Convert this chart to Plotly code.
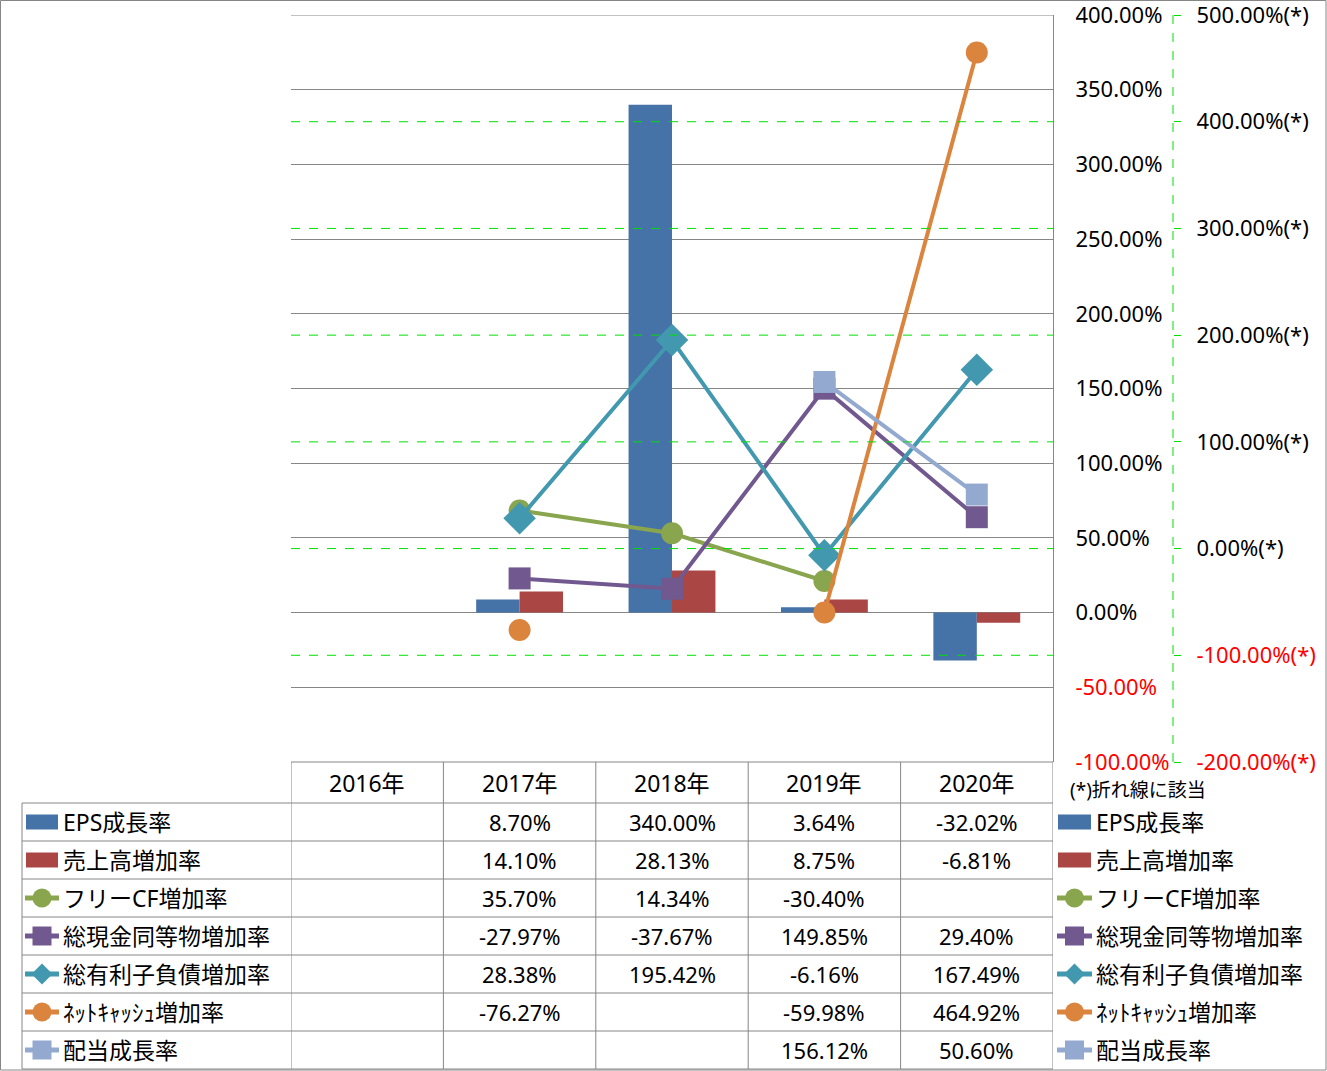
import plotly.graph_objects as go

# ---------------- data ----------------
years = ['2016年', '2017年', '2018年', '2019年', '2020年']
eps = [None, 8.70, 340.00, 3.64, -32.02]
sales = [None, 14.10, 28.13, 8.75, -6.81]
fcf = [None, 35.70, 14.34, -30.40, None]
cash = [None, -27.97, -37.67, 149.85, 29.40]
debt = [None, 28.38, 195.42, -6.16, 167.49]
netcash = [None, -76.27, None, -59.98, 464.92]
dividend = [None, None, None, 156.12, 50.60]

names = ['EPS成長率', '売上高増加率', 'フリーCF増加率', '総現金同等物増加率',
         '総有利子負債増加率', 'ﾈｯﾄｷｬｯｼｭ増加率', '配当成長率']
series = [eps, sales, fcf, cash, debt, netcash, dividend]
kinds = ['bar', 'bar', 'line', 'line', 'line', 'line', 'line']
colors = ['#4572A7', '#AA4643', '#89A54E', '#71588F', '#4198AF', '#DB843D', '#93A9CF']
symbols = [None, None, 'circle', 'square', 'diamond', 'circle', 'square']
msizes = [None, None, 22, 22, 25, 22, 22]

y1_ticks = [-100, -50, 0, 50, 100, 150, 200, 250, 300, 350, 400]
y2_ticks = [-200, -100, 0, 100, 200, 300, 400, 500]
footnote = '(*)折れ線に該当'

# ---------------- geometry helpers ----------------
W, H = 1327, 1071
FONT = 'Noto Sans, Noto Sans CJK JP, sans-serif'
GRAY = '#868686'
GREEN = '#00E000'


def px(x):
    return x / W


def py(y):
    return 1 - y / H


PL, PR, PT, PB = 291, 1053, 15, 762
Y2X = 1173
HDR_B = 803
ROW_H = 38
LEFT = 22

fig = go.Figure()

for s, k, c, sym, ms, n in zip(series, kinds, colors, symbols, msizes, names):
    if k == 'bar':
        fig.add_trace(go.Bar(x=years, y=s, name=n, marker=dict(color=c, line=dict(width=0)),
                             yaxis='y', showlegend=False))
    else:
        fig.add_trace(go.Scatter(x=years, y=s, name=n, mode='lines+markers', yaxis='y2',
                                 line=dict(color=c, width=4),
                                 marker=dict(symbol=sym, size=ms, color=c,
                                             line=dict(width=0)),
                                 connectgaps=False, showlegend=False, cliponaxis=False))


def red(t, v):
    return f'<span style="color:#FF0000">{t}</span>' if v < 0 else t


y1_text = [red(f'{v:.2f}%', v) for v in y1_ticks]
y2_text = [red(f'{v:.2f}%(*)', v) for v in y2_ticks]

shapes = []
annotations = []

# primary gridline at the top end (Plotly skips gridlines at the range ends)
shapes.append(dict(type='line', xref='x domain', x0=0, x1=1, yref='y',
                   y0=y1_ticks[-1], y1=y1_ticks[-1],
                   line=dict(color=GRAY, width=1), layer='below'))

# secondary gridlines (green dashed)
for v in y2_ticks[1:-1]:
    shapes.append(dict(type='line', xref='paper', x0=px(PL), x1=px(PR), yref='y2', y0=v, y1=v,
                       line=dict(color=GREEN, width=1, dash='dash'), layer='above'))
# secondary axis line (dashed)
shapes.append(dict(type='line', xref='paper', x0=px(Y2X), x1=px(Y2X), yref='y2',
                   y0=y2_ticks[0], y1=y2_ticks[-1], layer='above',
                   line=dict(color=GREEN, width=1, dash='dash')))

# ---------------- data table ----------------
nrows = len(names)
TB = HDR_B + ROW_H * nrows
for i in range(len(years) + 1):
    shapes.append(dict(type='line', xref='x', x0=i - 0.5, x1=i - 0.5, yref='paper',
                       y0=py(PB), y1=py(TB), line=dict(color=GRAY, width=1), layer='above'))
shapes.append(dict(type='line', xref='paper', x0=px(LEFT), x1=px(LEFT), yref='paper',
                   y0=py(HDR_B), y1=py(TB), line=dict(color=GRAY, width=1), layer='above'))
shapes.append(dict(type='line', xref='paper', x0=px(PL), x1=px(PR), yref='paper',
                   y0=py(PB), y1=py(PB), line=dict(color=GRAY, width=1), layer='above'))
for r in range(nrows + 1):
    yy = HDR_B + ROW_H * r
    shapes.append(dict(type='line', xref='paper', x0=px(LEFT), x1=px(PR), yref='paper',
                       y0=py(yy), y1=py(yy), line=dict(color=GRAY, width=1), layer='above'))

for j, yr in enumerate(years):
    annotations.append(dict(x=j, xref='x', y=py((PB + HDR_B) / 2), yref='paper', text=yr,
                            showarrow=False, font=dict(size=23, color='black'),
                            xanchor='center', yanchor='middle'))

for r, s in enumerate(series):
    yc = HDR_B + ROW_H * r + ROW_H / 2
    for j, v in enumerate(s):
        if v is None:
            continue
        annotations.append(dict(x=j, xref='x', y=py(yc), yref='paper', text=f'{v:.2f}%',
                                showarrow=False, font=dict(size=22, color='black'),
                                xanchor='center', yanchor='middle'))


# ---------------- legend keys (table left column and right side) ----------------
def key(xl, xr, yc, r):
    c = colors[r]
    if kinds[r] == 'bar':
        shapes.append(dict(type='rect', xref='paper', yref='paper', x0=px(xl + 1), x1=px(xr - 1),
                           y0=py(yc - 7.5), y1=py(yc + 7.5), fillcolor=c, line=dict(width=0),
                           layer='above'))
        return
    shapes.append(dict(type='line', xref='paper', yref='paper', x0=px(xl), x1=px(xr),
                       y0=py(yc), y1=py(yc), line=dict(color=c, width=5), layer='above'))
    xc = (xl + xr) / 2
    if symbols[r] == 'circle':
        rr = 9.5
        shapes.append(dict(type='circle', xref='paper', yref='paper', x0=px(xc - rr), x1=px(xc + rr),
                           y0=py(yc - rr), y1=py(yc + rr), fillcolor=c, line=dict(width=0),
                           layer='above'))
    elif symbols[r] == 'square':
        rr = 9.5
        shapes.append(dict(type='rect', xref='paper', yref='paper', x0=px(xc - rr), x1=px(xc + rr),
                           y0=py(yc - rr), y1=py(yc + rr), fillcolor=c, line=dict(width=0),
                           layer='above'))
    else:
        rr = 10.5
        path = (f'M {px(xc - rr)} {py(yc)} L {px(xc)} {py(yc - rr)} '
                f'L {px(xc + rr)} {py(yc)} L {px(xc)} {py(yc + rr)} Z')
        shapes.append(dict(type='path', xref='paper', yref='paper', path=path,
                           fillcolor=c, line=dict(width=0), layer='above'))


for r, n in enumerate(names):
    yc = HDR_B + ROW_H * r + ROW_H / 2
    key(25, 59, yc, r)
    key(1057, 1092, yc, r)
    annotations.append(dict(x=px(61), xref='paper', y=py(yc), yref='paper', text=n,
                            showarrow=False, font=dict(size=23, color='black'),
                            xanchor='left', yanchor='middle'))
    annotations.append(dict(x=px(1094), xref='paper', y=py(yc), yref='paper', text=n,
                            showarrow=False, font=dict(size=23, color='black'),
                            xanchor='left', yanchor='middle'))

annotations.append(dict(x=px(1068), xref='paper', y=py(790), yref='paper', text=footnote,
                        showarrow=False, font=dict(size=19, color='black'),
                        xanchor='left', yanchor='middle'))

# outer border
shapes.append(dict(type='rect', xref='paper', yref='paper', x0=px(0.5), x1=px(W - 1),
                   y0=py(H - 1), y1=py(0.5), line=dict(color=GRAY, width=1), layer='above'))

fig.update_layout(
    width=W, height=H,
    margin=dict(l=0, r=0, t=0, b=0, autoexpand=False),
    paper_bgcolor='white', plot_bgcolor='white',
    font=dict(family=FONT, size=22, color='black'),
    barmode='group', bargap=0.43, bargroupgap=0,
    showlegend=False,
    xaxis=dict(domain=[px(PL), px(PR)], type='category', range=[-0.5, len(years) - 0.5],
               showticklabels=False, showgrid=False, zeroline=False, showline=False, ticks=''),
    yaxis=dict(domain=[py(PB), py(PT)], side='right',
               range=[y1_ticks[0], y1_ticks[-1]],
               tickmode='array', tickvals=y1_ticks, ticktext=y1_text,
               showgrid=True, gridcolor=GRAY, gridwidth=1, zeroline=False,
               showline=True, linecolor=GRAY, linewidth=1, ticks='',
               ticklabeloverflow='allow',
               ticklabelstandoff=17, tickfont=dict(size=22, color='black')),
    yaxis2=dict(overlaying='y', side='right', anchor='free', position=px(Y2X),
                range=[y2_ticks[0], y2_ticks[-1]],
                tickmode='array', tickvals=y2_ticks, ticktext=y2_text,
                showgrid=False, zeroline=False, showline=False,
                ticks='outside', ticklen=7, tickcolor=GREEN, tickwidth=1,
                ticklabeloverflow='allow',
                ticklabelstandoff=11, tickfont=dict(size=22, color='black')),
    shapes=shapes,
    annotations=annotations,
)

fig.write_html('out.html', config={'displayModeBar': False},
               post_script="document.body.style.margin='0';document.body.style.padding='0';")
